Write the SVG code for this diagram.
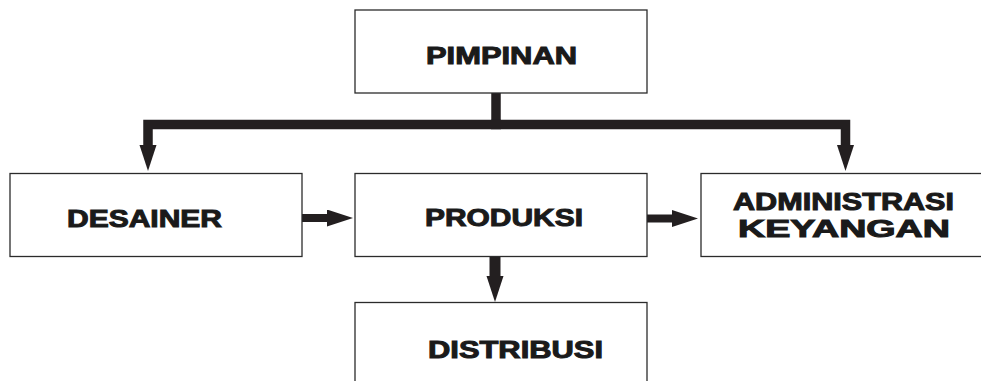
<svg xmlns="http://www.w3.org/2000/svg" width="981" height="381" viewBox="0 0 981 381">
<defs>
<style>
.box{fill:#fff;stroke:#2b2b2b;stroke-width:1.3}
.lbl{font-family:"Liberation Sans",Arial,sans-serif;font-weight:bold;font-size:24px;fill:#1a1a1a;stroke:#1a1a1a;stroke-width:1}
.con{fill:none;stroke:#231f20;stroke-width:9.5;stroke-linejoin:miter}
</style>
<marker id="ah" markerUnits="userSpaceOnUse" markerWidth="28" markerHeight="20" refX="1" refY="8.5" orient="auto">
<path d="M0,0 L26,8.5 L0,17 Z" fill="#231f20"/>
</marker>
</defs>
<rect width="981" height="381" fill="#fff"/>
<g id="connectors">
<path class="con" d="M496,93 V124.5"/>
<path class="con" d="M501,124.5 H148 V146" marker-end="url(#ah)"/>
<path class="con" d="M491,124.5 H845.5 V146" marker-end="url(#ah)"/>
<path class="con" style="stroke-width:8" d="M302,218 H328" marker-end="url(#ah)"/>
<path class="con" style="stroke-width:8" d="M647,218.5 H673" marker-end="url(#ah)"/>
<path class="con" style="stroke-width:11" d="M495,257 V277" marker-end="url(#ah)"/>
</g>
<g id="pimpinan">
<rect class="box" x="355" y="10" width="292" height="83"/>
<text class="lbl" x="426" y="64" textLength="151" lengthAdjust="spacingAndGlyphs">PIMPINAN</text>
</g>
<g id="desainer">
<rect class="box" x="10" y="173.5" width="292" height="83"/>
<text class="lbl" x="67" y="227" textLength="155" lengthAdjust="spacingAndGlyphs">DESAINER</text>
</g>
<g id="produksi">
<rect class="box" x="355" y="173.5" width="292" height="83"/>
<text class="lbl" x="425" y="226" textLength="158" lengthAdjust="spacingAndGlyphs">PRODUKSI</text>
</g>
<g id="administrasi">
<rect class="box" x="701" y="173.5" width="292" height="83"/>
<text class="lbl" x="733" y="210" textLength="221" lengthAdjust="spacingAndGlyphs">ADMINISTRASI</text>
<text class="lbl" x="738" y="237" textLength="212" lengthAdjust="spacingAndGlyphs">KEYANGAN</text>
</g>
<g id="distribusi">
<rect class="box" x="355" y="302.5" width="292" height="83"/>
<text class="lbl" x="428" y="358" textLength="175" lengthAdjust="spacingAndGlyphs">DISTRIBUSI</text>
</g>
</svg>
